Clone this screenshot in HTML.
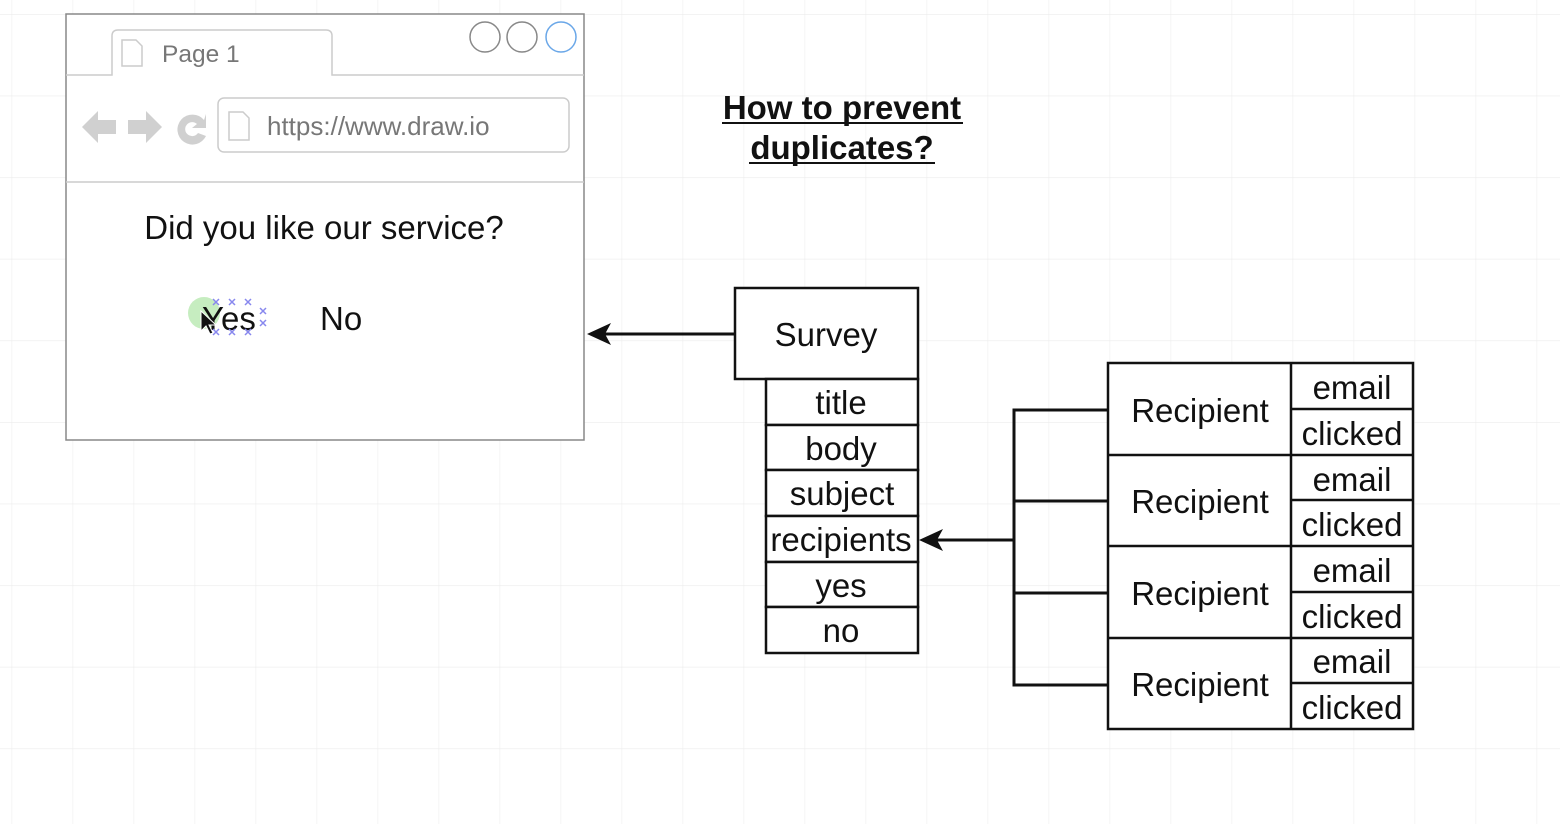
<!DOCTYPE html>
<html><head><style>
body{margin:0;width:1560px;height:824px;overflow:hidden;background:#fff;font-family:"Liberation Sans",Arial,sans-serif;}
svg{position:absolute;left:0;top:0}
</style></head><body>
<svg width="1560" height="824" viewBox="0 0 1560 824" xmlns="http://www.w3.org/2000/svg" font-family="Liberation Sans, Arial, sans-serif">
<defs>
<pattern id="g" x="11.6" y="14" width="61" height="81.6" patternUnits="userSpaceOnUse">
<path d="M0 0V81.6M0 0H61" stroke="#ececec" stroke-width="1.2" fill="none"/>
</pattern>
</defs>
<rect width="1560" height="824" fill="url(#g)"/>
<!-- browser -->
<rect x="66" y="14" width="518" height="426" fill="#fff" stroke="#888" stroke-width="1.5"/>
<path d="M66 75H112V36Q112 30 118 30H326Q332 30 332 36V75H584" fill="none" stroke="#ccc" stroke-width="1.5"/>
<path d="M122 40h14l6 6v20h-20z" fill="none" stroke="#ccc" stroke-width="1.5"/>
<text x="162" y="62" font-size="24.5" fill="#777">Page 1</text>
<circle cx="485" cy="37" r="15" fill="none" stroke="#888" stroke-width="1.5"/>
<circle cx="522" cy="37" r="15" fill="none" stroke="#888" stroke-width="1.5"/>
<circle cx="561" cy="37" r="15" fill="none" stroke="#6aa7e8" stroke-width="1.5"/>
<path d="M82 127l16-16v9h18v14h-18v9z" fill="#d0d0d0"/>
<path d="M162 127l-16-16v9h-18v14h18v9z" fill="#d0d0d0"/>
<path d="M204 120a15 15 0 1 0 2 16l-8-3a7 7 0 1 1-1-9l-5 4h14v-14z" fill="#d0d0d0"/>
<rect x="218" y="98" width="351" height="54" rx="6" fill="none" stroke="#ccc" stroke-width="1.5"/>
<path d="M229 112h14l6 6v22h-20z" fill="none" stroke="#ccc" stroke-width="1.5"/>
<text x="267" y="135" font-size="26" fill="#777">https://www.draw.io</text>
<line x1="66" y1="182" x2="584" y2="182" stroke="#ccc" stroke-width="1.5"/>
<text x="324" y="239" font-size="33" text-anchor="middle" fill="#111">Did you like our service?</text>
<circle cx="204" cy="313" r="16" fill="#b8e8b0" opacity="0.8"/>
<text x="202" y="330" font-size="33" fill="#111">Yes</text>
<g stroke="#8888ee" stroke-width="1.5">
<path d="M213 299l6 6M219 299l-6 6M229 299l6 6M235 299l-6 6M245 299l6 6M251 299l-6 6M213 329l6 6M219 329l-6 6M229 329l6 6M235 329l-6 6M245 329l6 6M251 329l-6 6M260 308l6 6M266 308l-6 6M260 320l6 6M266 320l-6 6"/>
</g>
<path d="M201 311l0 20 5-5 4 8 3-1-4-8 7 0z" fill="#111" stroke="#fff" stroke-width="1"/>
<text x="320" y="330" font-size="33" fill="#111">No</text>
<!-- title -->
<g font-size="33" font-weight="bold" text-anchor="middle" fill="#111">
<text x="842" y="119">How to prevent</text>
<text x="842" y="159">duplicates?</text>
</g>
<line x1="722" y1="123" x2="963" y2="123" stroke="#111" stroke-width="2"/>
<line x1="749" y1="163" x2="935" y2="163" stroke="#111" stroke-width="2"/>
<!-- survey -->
<g fill="#fff" stroke="#111" stroke-width="2.5">
<rect x="735" y="288" width="183" height="91"/>
<rect x="766" y="379" width="152" height="46"/>
<rect x="766" y="425" width="152" height="45"/>
<rect x="766" y="470" width="152" height="46"/>
<rect x="766" y="516" width="152" height="46"/>
<rect x="766" y="562" width="152" height="45"/>
<rect x="766" y="607" width="152" height="46"/>
</g>
<g font-size="33" text-anchor="middle" fill="#111">
<text x="826" y="346">Survey</text>
<text x="841" y="414">title</text>
<text x="841" y="460">body</text>
<text x="842" y="505">subject</text>
<text x="841" y="551">recipients</text>
<text x="841" y="597">yes</text>
<text x="841" y="642">no</text>
</g>
<!-- arrows -->
<g stroke="#111" stroke-width="3" fill="none">
<line x1="735" y1="334" x2="600" y2="334"/>
<line x1="1014" y1="540" x2="932" y2="540"/>
<path d="M1108 410H1014V685H1108M1014 501H1108M1014 593H1108"/>
</g>
<path d="M587 334l24-11-6 11 6 11z" fill="#111"/>
<path d="M919 540l24-11-6 11 6 11z" fill="#111"/>
<!-- recipients -->
<rect x="1108" y="363" width="305" height="366" fill="#fff" stroke="#111" stroke-width="2.5"/>
<g stroke="#111" stroke-width="2.5">
<line x1="1291" y1="363" x2="1291" y2="729"/>
<line x1="1108" y1="455" x2="1413" y2="455"/>
<line x1="1108" y1="546" x2="1413" y2="546"/>
<line x1="1108" y1="638" x2="1413" y2="638"/>
<line x1="1291" y1="409" x2="1413" y2="409"/>
<line x1="1291" y1="500" x2="1413" y2="500"/>
<line x1="1291" y1="592" x2="1413" y2="592"/>
<line x1="1291" y1="683" x2="1413" y2="683"/>
</g>
<g font-size="33" text-anchor="middle" fill="#111">
<text x="1200" y="422">Recipient</text>
<text x="1200" y="513">Recipient</text>
<text x="1200" y="605">Recipient</text>
<text x="1200" y="696">Recipient</text>
<text x="1352" y="399">email</text>
<text x="1352" y="445">clicked</text>
<text x="1352" y="491">email</text>
<text x="1352" y="536">clicked</text>
<text x="1352" y="582">email</text>
<text x="1352" y="628">clicked</text>
<text x="1352" y="673">email</text>
<text x="1352" y="719">clicked</text>
</g>
</svg>
</body></html>
